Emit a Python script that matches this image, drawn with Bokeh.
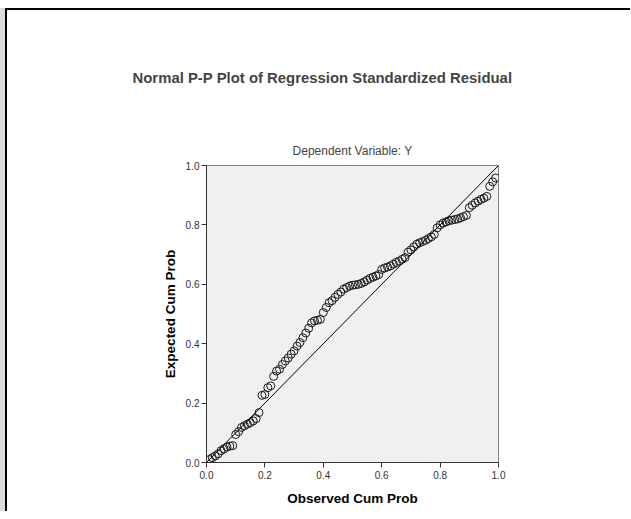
from bokeh.plotting import figure
from bokeh.models import Title, FixedTicker, Range1d, PrintfTickFormatter, Slope, InlineStyleSheet
from bokeh.embed import file_html
from bokeh.resources import INLINE

observed = [0.01, 0.02, 0.03, 0.04, 0.05, 0.06, 0.07, 0.08, 0.09, 0.10,
            0.11, 0.12, 0.13, 0.14, 0.15, 0.16, 0.17, 0.18, 0.19, 0.20,
            0.21, 0.22, 0.23, 0.24, 0.25, 0.26, 0.27, 0.28, 0.29, 0.30,
            0.31, 0.32, 0.33, 0.34, 0.35, 0.36, 0.37, 0.38, 0.39, 0.40,
            0.41, 0.42, 0.43, 0.44, 0.45, 0.46, 0.47, 0.48, 0.49, 0.50,
            0.51, 0.52, 0.53, 0.54, 0.55, 0.56, 0.57, 0.58, 0.59, 0.60,
            0.61, 0.62, 0.63, 0.64, 0.65, 0.66, 0.67, 0.68, 0.69, 0.70,
            0.71, 0.72, 0.73, 0.74, 0.75, 0.76, 0.77, 0.78, 0.79, 0.80,
            0.81, 0.82, 0.83, 0.84, 0.85, 0.86, 0.87, 0.88, 0.89, 0.90,
            0.91, 0.92, 0.93, 0.94, 0.95, 0.96, 0.97, 0.98, 0.99]
expected = [0.010, 0.016, 0.022, 0.029, 0.040, 0.046, 0.052, 0.055, 0.057, 0.094,
            0.104, 0.118, 0.124, 0.129, 0.134, 0.140, 0.148, 0.168, 0.226, 0.229,
            0.252, 0.258, 0.290, 0.308, 0.314, 0.330, 0.342, 0.352, 0.365, 0.376,
            0.392, 0.404, 0.420, 0.436, 0.452, 0.470, 0.477, 0.479, 0.482, 0.505,
            0.522, 0.538, 0.545, 0.556, 0.566, 0.574, 0.584, 0.589, 0.594, 0.597,
            0.598, 0.600, 0.603, 0.608, 0.614, 0.620, 0.624, 0.628, 0.633, 0.650,
            0.655, 0.658, 0.662, 0.668, 0.674, 0.678, 0.684, 0.690, 0.708, 0.716,
            0.726, 0.735, 0.740, 0.744, 0.748, 0.754, 0.760, 0.768, 0.790, 0.800,
            0.806, 0.810, 0.814, 0.816, 0.818, 0.820, 0.824, 0.828, 0.832, 0.858,
            0.866, 0.874, 0.880, 0.886, 0.890, 0.896, 0.930, 0.945, 0.958]
tick_values = [0.0, 0.2, 0.4, 0.6, 0.8, 1.0]

FONT = "Liberation Sans"

css = InlineStyleSheet(css=""":host {
  margin-left: 5px; margin-top: 8px;
  border-left: 2px solid #000000; border-top: 2px solid #000000;
  box-shadow: -5px 0 0 0 #dcdcdc;
}""")

p = figure(frame_width=292, frame_height=297,
           min_border_left=199, min_border_right=132,
           min_border_top=155, min_border_bottom=49,
           x_range=Range1d(0, 1), y_range=Range1d(0, 1),
           output_backend="svg", toolbar_location=None, title=None,
           stylesheets=[css])

p.background_fill_color = "#f0f0f0"
p.border_fill_color = "white"
p.outline_line_color = "#808080"
p.outline_line_width = 1
p.xgrid.visible = False
p.ygrid.visible = False

for ax in (p.xaxis[0], p.yaxis[0]):
    ax.ticker = FixedTicker(ticks=tick_values)
    ax.formatter = PrintfTickFormatter(format="%.1f")
    ax.minor_tick_line_color = None
    ax.major_tick_in = 0
    ax.major_tick_out = 5
    ax.major_tick_line_color = "#333333"
    ax.axis_line_color = "#333333"
    ax.major_label_text_font = FONT
    ax.major_label_text_font_size = "10px"
    ax.major_label_text_color = "#333333"
    ax.axis_label_text_font = FONT
    ax.axis_label_text_font_size = "13.5px"
    ax.axis_label_text_font_style = "bold"
    ax.axis_label_text_color = "#000000"

p.xaxis.axis_label = "Observed Cum Prob"
p.yaxis.axis_label = "Expected Cum Prob"
p.xaxis.major_label_standoff = 3
p.yaxis.major_label_standoff = 2
p.xaxis.axis_label_standoff = 9
p.yaxis.axis_label_standoff = 5

p.add_layout(Slope(gradient=1, y_intercept=0, line_color="#000000", line_width=1))

p.scatter(observed, expected, size=8, marker="circle", fill_color=None,
          line_color="#1a1a1a", line_width=1)

sub = Title(text="Dependent Variable: Y", align="center", text_font=FONT,
            text_font_size="12px", text_font_style="normal", standoff=15)
main = Title(text="Normal P-P Plot of Regression Standardized Residual", align="left",
             offset=-74, text_font=FONT, text_font_size="14.9px", text_font_style="bold",
             standoff=98)
p.add_layout(sub, "above")
p.add_layout(main, "above")

open("out.html", "w").write(file_html(p, INLINE))
